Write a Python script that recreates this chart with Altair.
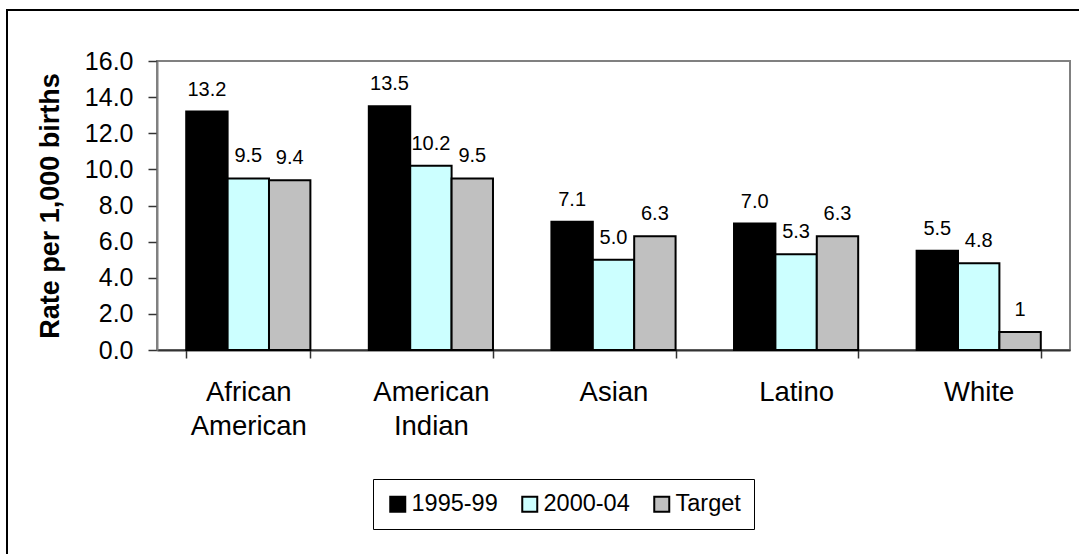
import altair as alt
import pandas as pd

groups = ["African American", "American Indian", "Asian", "Latino", "White"]
series = ["1995-99", "2000-04", "Target"]
v1995 = [13.2, 13.5, 7.1, 7.0, 5.5]
v2000 = [9.5, 10.2, 5.0, 5.3, 4.8]
vtarget = [9.4, 9.5, 6.3, 6.3, 1]
lab1995 = ["13.2", "13.5", "7.1", "7.0", "5.5"]
lab2000 = ["9.5", "10.2", "5.0", "5.3", "4.8"]
labtarget = ["9.4", "9.5", "6.3", "6.3", "1"]
colors = ["#000000", "#CCFFFF", "#C0C0C0"]
y_ticks = [0, 2, 4, 6, 8, 10, 12, 14, 16]

rows = []
for s, vals, labs in zip(series, [v1995, v2000, vtarget], [lab1995, lab2000, labtarget]):
    for g, v, l in zip(groups, vals, labs):
        rows.append({"group": g, "series": s, "value": v, "label": l})
df = pd.DataFrame(rows)

FONT = "Liberation Sans"

x_enc = alt.X(
    "group:N", sort=groups,
    scale=alt.Scale(paddingInner=0.32, paddingOuter=0.16),
    axis=alt.Axis(
        title=None, labelExpr="split(datum.label, ' ')", labelAngle=0,
        labelFontSize=27.5, labelLineHeight=34, labelPadding=20,
        tickSize=8, tickBand="extent", domainColor="#333333", domainWidth=2,
        tickColor="#333333", tickWidth=1.5, labelColor="#000000",
    ),
)
xoff = alt.XOffset("series:N", sort=series, scale=alt.Scale(paddingInner=0, paddingOuter=0))
y_enc = alt.Y(
    "value:Q", scale=alt.Scale(domain=[0, 16]),
    axis=alt.Axis(
        values=y_ticks, format=".1f", title="Rate per 1,000 births",
        titleFontSize=27, titleFontWeight="bold", titleX=-107, titleY=144.5,
        titleAlign="center", titleBaseline="middle", titleAngle=270, titleColor="#000000",
        labelFontSize=25, labelPadding=15, tickSize=9, grid=False,
        domainColor="#808080", domainWidth=2, tickColor="#333333", tickWidth=1.5,
        labelColor="#000000",
    ),
)

bars = alt.Chart(df).mark_bar(stroke="black", strokeWidth=2).encode(
    x=x_enc, xOffset=xoff, y=y_enc,
    color=alt.Color(
        "series:N", sort=series,
        scale=alt.Scale(domain=series, range=colors),
        legend=alt.Legend(
            title=None, orient="none", legendX=216, legendY=418,
            direction="horizontal", symbolType="square", symbolSize=225,
            symbolStrokeWidth=2, symbolStrokeColor="black",
            labelFontSize=23.5, labelOffset=2, columnPadding=20, padding=13,
            strokeColor="black", fillColor="white", labelColor="#000000",
        ),
    ),
)

texts = alt.Chart(df).mark_text(dy=-16, baseline="alphabetic", fontSize=20, color="black").encode(
    x=x_enc, xOffset=xoff, y=y_enc, text="label:N"
)

border = alt.Chart(pd.DataFrame({"d": [0]})).mark_rect(
    fill="white", fillOpacity=0, stroke="black", strokeWidth=2
).encode(x=alt.value(-150), x2=alt.value(940), y=alt.value(-51), y2=alt.value(510))

chart = alt.layer(border, bars, texts).properties(
    width=913, height=289,
    autosize=alt.AutoSizeParams(type="none"),
    padding={"left": 157, "top": 61, "right": 9, "bottom": 204},
).configure(font=FONT).configure_view(stroke="#808080", strokeWidth=2)

chart.save("out.html", embed_options={"renderer": "svg", "actions": False})
